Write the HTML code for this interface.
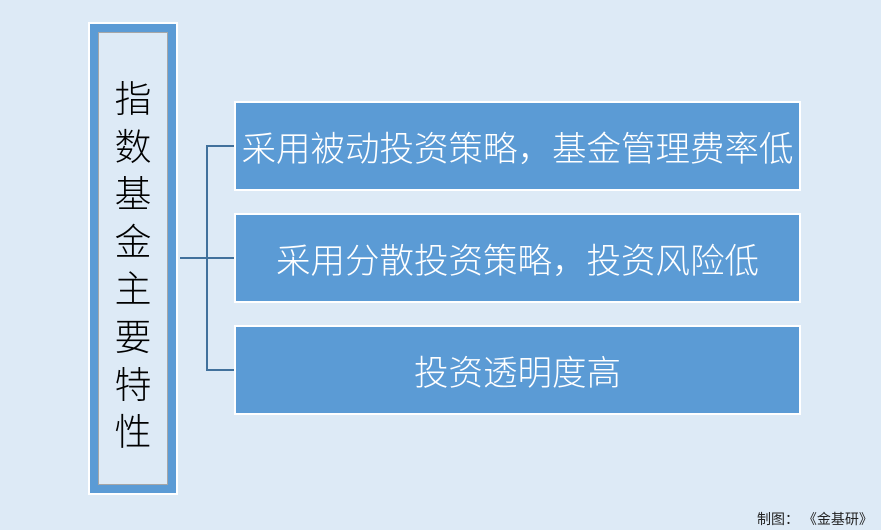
<!DOCTYPE html>
<html><head><meta charset="utf-8"><style>
body{margin:0;width:881px;height:530px;background:#ddeaf6;position:relative;overflow:hidden;font-family:"Liberation Sans","Noto Sans CJK SC",sans-serif;}
.l{position:absolute;left:88px;top:22px;width:74px;height:457px;border:2px solid #fff;background:#5b9bd5;padding:6px}
.li{position:absolute;left:8px;top:8px;right:8px;bottom:8px;background:#ddeaf6;border:1px solid #a6a6a6;}
.vt{position:absolute;left:0;right:0;top:43px;text-align:center;font-size:37px;line-height:47.6px;color:#000;font-weight:300}
.b{position:absolute;left:234px;width:563px;height:86px;background:#5b9bd5;border:2px solid #fff;color:#fff;font-size:34.5px;font-weight:300;display:flex;align-items:center;justify-content:center;white-space:nowrap}
.h{position:absolute;background:#41719c;height:2px}
.foot{position:absolute;left:757px;top:509px;font-size:14px;color:#222;white-space:nowrap}
</style></head><body>
<div class="l"><div class="li"><div class="vt">指<br>数<br>基<br>金<br>主<br>要<br>特<br>性</div></div></div>
<div class="h" style="left:180px;top:257px;width:28px"></div>
<div class="h" style="left:206px;top:145px;width:2px;height:226px"></div>
<div class="h" style="left:206px;top:145px;width:28px"></div>
<div class="h" style="left:206px;top:257px;width:28px"></div>
<div class="h" style="left:206px;top:369px;width:28px"></div>
<div class="b" style="top:101px">采用被动投资策略，基金管理费率低</div>
<div class="b" style="top:213px">采用分散投资策略，投资风险低</div>
<div class="b" style="top:325px">投资透明度高</div>
<div class="foot">制图：&nbsp;《金基研》</div>
</body></html>
